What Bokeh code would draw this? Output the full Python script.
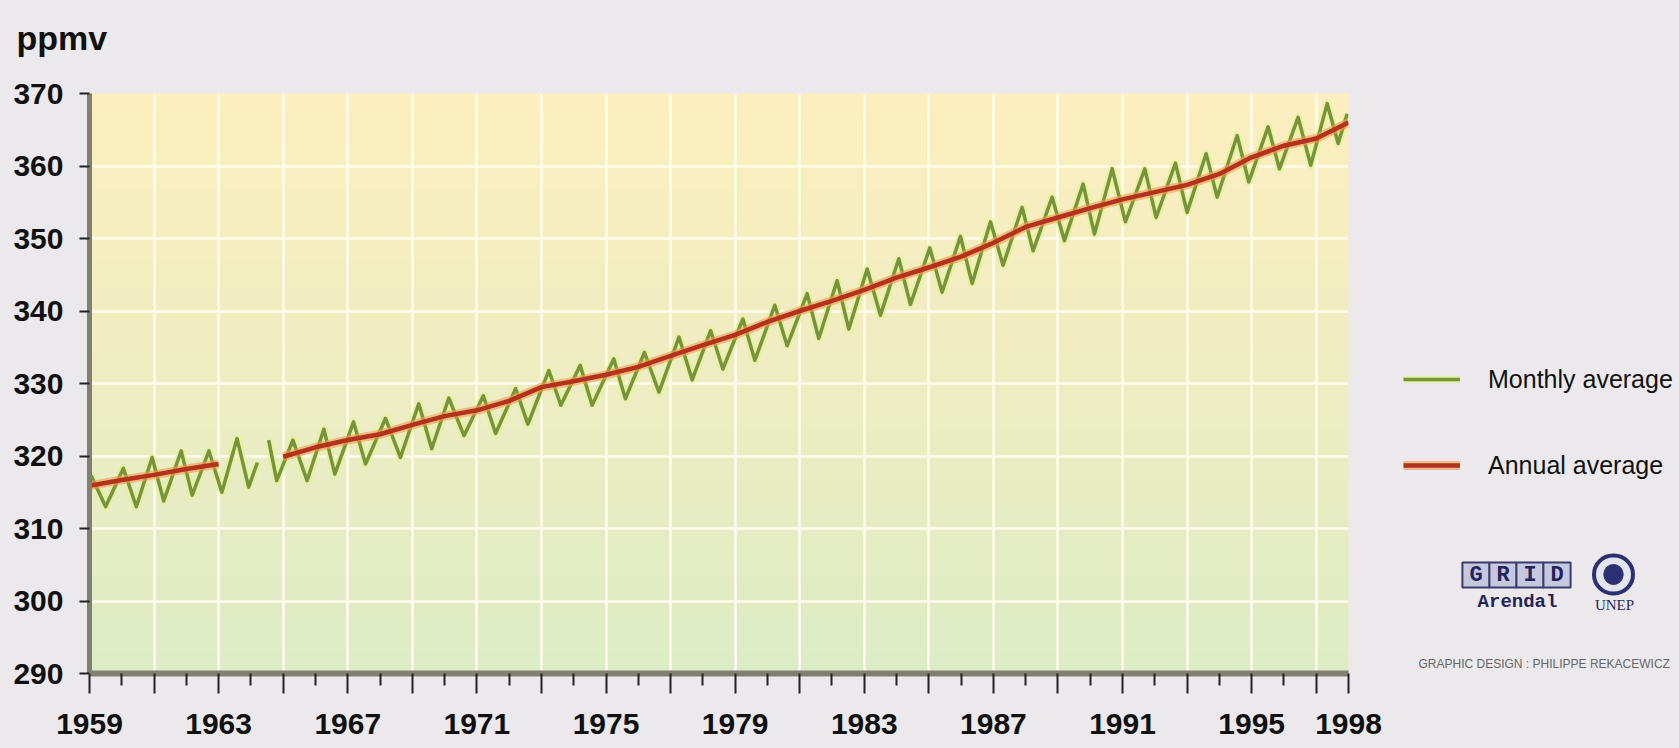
import numpy as np
from bokeh.plotting import figure
from bokeh.layouts import column, row
from bokeh.models import FixedTicker, Label, Legend, LegendItem, Range1d
from bokeh.embed import file_html
from bokeh.resources import INLINE

# ---------------- data ----------------
nan = float("nan")
monthly_year = [1959.05, 1959.50, 1960.05, 1960.45, 1960.94, 1961.30, 1961.84, 1962.18,
                1962.70, 1963.10, 1963.57, 1963.93, 1964.20, 1964.38,
                1964.55, 1964.80, 1965.30, 1965.74, 1966.26, 1966.60, 1967.18, 1967.55,
                1968.17, 1968.63, 1969.20, 1969.60, 1970.13, 1970.60, 1971.20, 1971.58,
                1972.20, 1972.58, 1973.23, 1973.60, 1974.20, 1974.57, 1975.24, 1975.60,
                1976.19, 1976.64, 1977.26, 1977.67, 1978.24, 1978.62, 1979.24, 1979.61,
                1980.23, 1980.61, 1981.23, 1981.59, 1982.16, 1982.52, 1983.09, 1983.50,
                1984.07, 1984.43, 1985.03, 1985.41, 1985.98, 1986.34, 1986.91, 1987.30,
                1987.89, 1988.23, 1988.82, 1989.20, 1989.78, 1990.13, 1990.68, 1991.09,
                1991.69, 1992.04, 1992.64, 1993.00, 1993.59, 1993.93, 1994.55, 1994.91,
                1995.51, 1995.86, 1996.44, 1996.83, 1997.34, 1997.68, 1997.96]
monthly_ppm = [317.3, 313.0, 318.3, 313.0, 319.8, 313.8, 320.7, 314.6,
               320.7, 315.0, 322.4, 315.7, 319.1, nan,
               322.2, 316.6, 322.2, 316.6, 323.7, 317.5, 324.7, 318.9,
               325.2, 319.8, 327.2, 321.0, 328.0, 322.8, 328.3, 323.1,
               329.3, 324.4, 331.8, 327.0, 332.5, 327.0, 333.4, 327.9,
               334.3, 328.8, 336.4, 330.5, 337.3, 332.0, 338.9, 333.2,
               340.8, 335.2, 342.4, 336.2, 344.2, 337.5, 345.8, 339.4,
               347.2, 340.9, 348.7, 342.6, 350.3, 343.8, 352.3, 346.3,
               354.3, 348.3, 355.7, 349.7, 357.5, 350.6, 359.6, 352.3,
               359.6, 352.9, 360.4, 353.6, 361.7, 355.7, 364.2, 357.8,
               365.4, 359.6, 366.7, 360.1, 368.6, 363.1, 367.2]

annual_year = [1959, 1960, 1961, 1962, 1963, 1964, 1965, 1966, 1967, 1968, 1969,
               1970, 1971, 1972, 1973, 1974, 1975, 1976, 1977, 1978, 1979, 1980,
               1981, 1982, 1983, 1984, 1985, 1986, 1987, 1988, 1989, 1990, 1991,
               1992, 1993, 1994, 1995, 1996, 1997, 1998]
annual_ppm = [315.9, 316.7, 317.4, 318.2, 318.9, nan, 319.9, 321.2, 322.2, 323.0, 324.3,
              325.5, 326.3, 327.6, 329.5, 330.3, 331.2, 332.3, 333.8, 335.3, 336.7, 338.5,
              340.0, 341.4, 342.9, 344.6, 346.0, 347.5, 349.4, 351.6, 352.9, 354.2, 355.4,
              356.4, 357.4, 358.9, 361.2, 362.8, 363.8, 366.0]

y_ticks = [290, 300, 310, 320, 330, 340, 350, 360, 370]
x_label_years = [1959, 1963, 1967, 1971, 1975, 1979, 1983, 1987, 1991, 1995, 1998]
series_labels = ["Monthly average", "Annual average"]
unit_label = "ppmv"

# ---------------- layout constants (page pixels) ----------------
X0, X1, Y0, Y1 = 1959, 1998, 290, 370
TOTAL_W = 1679
HEAD_H = 70
FRAME_L, FRAME_R, FRAME_T, FRAME_B = 89, 1348, 93, 673
FW, FH = FRAME_R - FRAME_L, FRAME_B - FRAME_T
BR = 40
MAIN_W = FRAME_L + FW + BR
TOP_B = FRAME_T - HEAD_H
BOT_B = 748 - FRAME_B
SIDE_W = TOTAL_W - MAIN_W
FONT = "Liberation Sans"
BG = "#ebe9ec"


def style_blank(f):
    f.grid.visible = False
    f.outline_line_color = None
    f.background_fill_color = BG
    f.border_fill_color = BG
    return f


# ---------------- header with unit ----------------
head = style_blank(figure(width=TOTAL_W, height=HEAD_H, x_range=Range1d(0, TOTAL_W),
                          y_range=Range1d(HEAD_H, 0), min_border=0,
                          x_axis_type=None, y_axis_type=None,
                          output_backend="svg", toolbar_location=None))
head.add_layout(Label(x=16, y=37, text=unit_label, text_font=FONT, text_font_size="34px",
                      text_font_style="bold", text_color="#111111", text_baseline="alphabetic"))

# ---------------- main plot ----------------
p = figure(frame_width=FW, frame_height=FH,
           x_range=Range1d(X0, X1), y_range=Range1d(Y0, Y1),
           min_border_left=FRAME_L, min_border_right=BR,
           min_border_top=TOP_B, min_border_bottom=BOT_B,
           output_backend="svg", toolbar_location=None)
p.border_fill_color = BG
p.background_fill_color = "#f0edc6"
p.outline_line_color = None

# background gradient (yellow top -> pale green bottom)
n = 200
top = np.array([253, 239, 190], float)
bot = np.array([222, 236, 198], float)
t = np.linspace(0, 1, n)[:, None]
rgb = bot + (top - bot) * t
img = np.empty((n, 1), dtype=np.uint32)
view = img.view(dtype=np.uint8).reshape((n, 1, 4))
view[:, 0, 0] = rgb[:, 0]
view[:, 0, 1] = rgb[:, 1]
view[:, 0, 2] = rgb[:, 2]
view[:, 0, 3] = 255
p.image_rgba(image=[img], x=X0, y=Y0, dw=X1 - X0, dh=Y1 - Y0, level="image")

# grid
p.xgrid.ticker = FixedTicker(ticks=list(range(1961, 1998, 2)))
p.ygrid.ticker = FixedTicker(ticks=y_ticks)
for g in (p.xgrid, p.ygrid):
    g.grid_line_color = "#fffcec"
    g.grid_line_width = 2.5
    g.grid_line_alpha = 1.0

# series
MH = dict(line_color="#e6f09a", line_width=7.5, line_alpha=0.75, line_join="round")
ML = dict(line_color="#76943a", line_width=3.5, line_join="round")
AH = dict(line_color="#f59a55", line_width=9, line_alpha=0.6, line_join="round")
AL = dict(line_color="#b3321b", line_width=4.5, line_join="round")
p.line(monthly_year, monthly_ppm, **MH)
p.line(monthly_year, monthly_ppm, **ML)
p.line(annual_year, annual_ppm, **AH)
p.line(annual_year, annual_ppm, **AL)

# axes
major_x = list(range(1959, 1998, 2)) + [1998]
minor_x = list(range(1960, 1997, 2))
xa = p.xaxis[0]
xa.ticker = FixedTicker(ticks=major_x, minor_ticks=minor_x)
xa.major_label_overrides = {yr: "" for yr in major_x if yr not in x_label_years}
xa.axis_line_color = "#7f7f72"
xa.axis_line_width = 6
xa.major_tick_line_color = "#222222"
xa.major_tick_line_width = 2
xa.major_tick_in = 0
xa.major_tick_out = 20
xa.minor_tick_line_color = "#222222"
xa.minor_tick_line_width = 2
xa.minor_tick_in = 0
xa.minor_tick_out = 12
xa.major_label_standoff = 20

ya = p.yaxis[0]
ya.ticker = FixedTicker(ticks=y_ticks)
ya.axis_line_color = "#7f7f72"
ya.axis_line_width = 5
ya.major_tick_line_color = "#222222"
ya.major_tick_line_width = 2
ya.major_tick_in = 0
ya.major_tick_out = 10
ya.minor_tick_line_color = None
ya.major_label_standoff = 16

for ax in (xa, ya):
    ax.major_label_text_font = FONT
    ax.major_label_text_font_size = "30px"
    ax.major_label_text_font_style = "bold"
    ax.major_label_text_color = "#111111"

# ---------------- side panel: legend and credits (frame aligned with main frame) ----------------
side = style_blank(figure(frame_width=SIDE_W, frame_height=FH,
                          x_range=Range1d(MAIN_W, TOTAL_W), y_range=Range1d(FRAME_B, FRAME_T),
                          min_border_left=0, min_border_right=0,
                          min_border_top=TOP_B, min_border_bottom=BOT_B,
                          x_axis_type=None, y_axis_type=None,
                          output_backend="svg", toolbar_location=None))
hidden = dict(x=[nan, nan], y=[nan, nan])
r_m = [side.line(**hidden, **MH), side.line(**hidden, **ML)]
r_a = [side.line(**hidden, **AH), side.line(**hidden, **AL)]
legend = Legend(items=[LegendItem(label=series_labels[0], renderers=r_m),
                       LegendItem(label=series_labels[1], renderers=r_a)],
                location=(1403 - MAIN_W, FRAME_B - 485),
                background_fill_alpha=0, border_line_alpha=0,
                label_text_font=FONT, label_text_font_size="25px", label_text_color="#111111",
                glyph_width=57, glyph_height=40, label_height=40, spacing=46,
                padding=0, margin=0, label_standoff=28)
side.add_layout(legend)

for i, ch in enumerate("GRID"):
    side.add_layout(Label(x=1475.5 + 27 * i, y=574.5, text=ch,
                          text_font="Liberation Mono", text_font_size="22px",
                          text_font_style="bold", text_color="#24235c",
                          text_align="center", text_baseline="middle",
                          background_fill_color="#c6c8dd", border_line_color="#3a3b6e",
                          border_line_width=2, padding=dict(left=7, right=7, top=0, bottom=0)))
side.add_layout(Label(x=1517, y=601, text="Arendal", text_font="Liberation Mono",
                      text_font_size="19px", text_font_style="bold", text_color="#24235c",
                      text_align="center", text_baseline="middle"))
side.add_layout(Label(x=1613, y=574, text=" ", text_font_size="18px",
                      text_align="center", text_baseline="middle",
                      background_fill_color="#e4e4ee", border_line_color="#2b3072",
                      border_line_width=4, border_radius=20,
                      padding=dict(left=17, right=17, top=9, bottom=9)))
side.add_layout(Label(x=1613, y=574, text=" ", text_font_size="12px",
                      text_align="center", text_baseline="middle",
                      background_fill_color="#2b3072", border_line_color="#2b3072",
                      border_radius=10, padding=dict(left=8, right=8, top=3, bottom=3)))
side.add_layout(Label(x=1614, y=604, text="UNEP", text_font="Liberation Serif",
                      text_font_size="15px", text_color="#2a2a5c",
                      text_align="center", text_baseline="middle"))
side.add_layout(Label(x=1418, y=663, text="GRAPHIC DESIGN : PHILIPPE REKACEWICZ",
                      text_font=FONT, text_font_size="12px", text_color="#666666",
                      text_baseline="middle"))

layout = column(head, row(p, side, spacing=0), spacing=0)
html = file_html(layout, INLINE, title="CO2 concentration")
html = html.replace("</head>", "<style>html, body { background-color: %s; }</style></head>" % BG, 1)
open("out.html", "w").write(html)
